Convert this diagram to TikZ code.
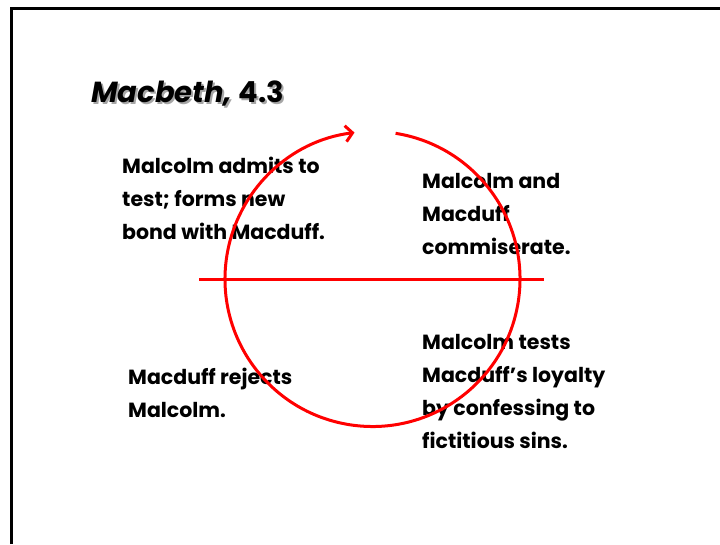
\documentclass[tikz,border=0pt]{standalone}
\usepackage{fontspec}
\setmainfont{Poppins}
\usetikzlibrary{arrows.meta}

\tikzset{
  cycletext/.style={anchor=base west,inner sep=0pt,align=left,
    font=\fontsize{20.5}{33}\selectfont\bfseries},
  titletext/.style={anchor=base west,inner sep=0pt,
    font=\fontsize{29}{34}\selectfont\bfseries},
  cycleline/.style={red,line width=3pt},
}

\begin{document}
\begin{tikzpicture}[x=1pt,y=-1pt]
\useasboundingbox (0,0) rectangle (720,544);
% frame
\draw[line width=3pt] (11.5,544) -- (11.5,8.5) -- (720,8.5);

% title
\node[titletext,text=black!35] (titleshadow) at (93,104) {\textit{Macbeth,} 4.3};
\node[titletext] (title) at (91,102) {\textit{Macbeth,} 4.3};

% the four steps (anchored at the last line)
\node[cycletext] (bond) at (122,239) {Malcolm admits to\\test; forms new\\bond with Macduff.};
\node[cycletext] (commiserate) at (422,254) {Malcolm and\\Macduff\\commiserate.};
\node[cycletext] (tests) at (422,448) {Malcolm tests\\Macduff’s loyalty\\by confessing to\\fictitious sins.};
\node[cycletext] (rejects) at (128,417) {Macduff rejects\\Malcolm.};

% cycle
\coordinate (centre) at (372.5,279);
\draw[cycleline] (199,279) -- (544,279);
\draw[cycleline,-{Straight Barb[length=7pt,width=16pt]}] (centre) ++(-81:147.5)
  arc[start angle=-81,end angle=263,radius=147.5];

\end{tikzpicture}
\end{document}
